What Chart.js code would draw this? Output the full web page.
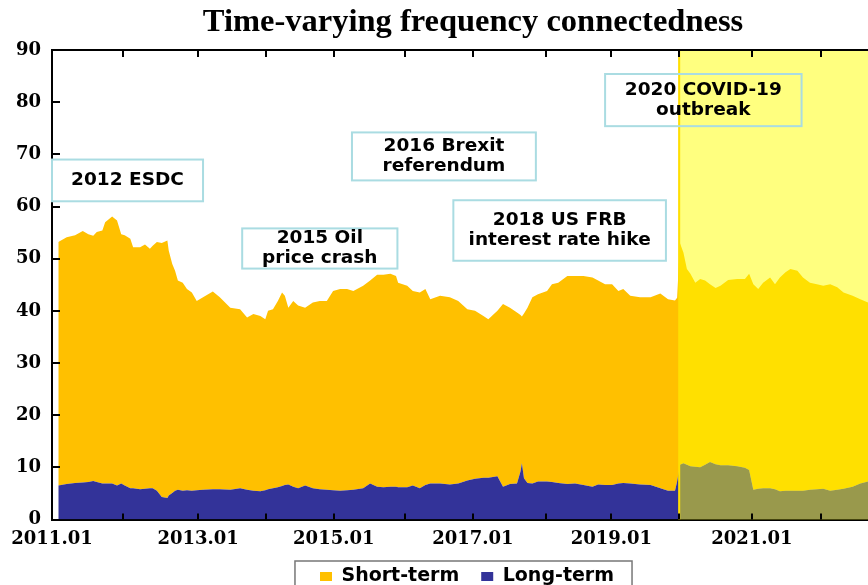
<!DOCTYPE html>
<html><head><meta charset="utf-8">
<script src="https://cdn.jsdelivr.net/npm/chart.js@4.4.1/dist/chart.umd.min.js"></script>
<style>html,body{margin:0;padding:0;background:#fff;overflow:hidden}</style>
</head><body>
<canvas id="c" width="868" height="585"></canvas>
<script>
// ---- data (decimal years) ----
const dates = [2011.09,2011.21,2011.33,2011.44,2011.52,2011.59,2011.64,2011.72,2011.76,2011.86,2011.93,2011.99,
2012.04,2012.12,2012.16,2012.26,2012.33,2012.40,2012.44,2012.50,2012.57,2012.65,2012.67,2012.72,2012.76,2012.80,2012.87,2012.93,
2013.00,2013.07,2013.16,2013.30,2013.40,2013.55,2013.69,2013.79,2013.88,2013.98,
2014.05,2014.09,2014.16,2014.23,2014.29,2014.33,2014.38,2014.45,2014.52,2014.62,2014.73,2014.83,2014.93,
2015.02,2015.12,2015.22,2015.31,2015.45,2015.55,2015.65,2015.74,2015.84,2015.92,2015.95,
2016.08,2016.16,2016.26,2016.34,2016.41,2016.55,2016.69,2016.81,2016.94,
2017.05,2017.17,2017.24,2017.37,2017.45,2017.55,2017.65,2017.70,2017.72,2017.75,2017.80,2017.87,2017.95,
2018.08,2018.15,2018.24,2018.37,2018.48,2018.60,2018.73,2018.81,2018.91,
2019.01,2019.10,2019.17,2019.27,2019.41,2019.56,2019.70,2019.81,2019.91,2019.94,2019.98,
2020.03,2020.08,2020.13,2020.20,2020.27,2020.34,2020.41,2020.49,2020.56,2020.67,2020.80,2020.91,2020.97,
2021.03,2021.10,2021.17,2021.27,2021.34,2021.41,2021.49,2021.56,2021.66,2021.74,2021.84,2021.94,
2022.03,2022.13,2022.23,2022.32,2022.45,2022.56,2022.67];

const longTerm = [6.5,6.8,7.0,7.1,7.2,7.4,7.2,6.9,6.9,6.9,6.5,6.9,
6.5,6.0,6.0,5.8,5.9,6.0,6.0,5.5,4.3,4.1,4.6,5.1,5.5,5.7,5.5,5.6,
5.5,5.6,5.7,5.8,5.8,5.7,6.0,5.7,5.5,5.4,
5.6,5.8,6.0,6.2,6.4,6.6,6.7,6.3,6.0,6.5,6.0,5.8,5.7,
5.6,5.5,5.6,5.7,6.0,6.9,6.3,6.2,6.3,6.3,6.2,
6.2,6.5,6.0,6.6,6.9,6.9,6.7,6.9,7.5,
7.8,8.0,8.0,8.3,6.3,6.8,6.9,9.2,10.8,7.9,7.0,6.9,7.3,
7.3,7.2,7.0,6.8,6.9,6.6,6.3,6.7,6.6,
6.6,6.9,7.0,6.9,6.7,6.6,6.0,5.5,5.5,7.3,10.5,
10.8,10.5,10.2,10.1,10.0,10.5,11.0,10.6,10.4,10.4,10.2,9.9,9.5,
5.7,5.9,6.0,6.0,5.8,5.4,5.5,5.5,5.5,5.5,5.7,5.8,
5.9,5.5,5.7,5.9,6.3,6.9,7.3];

const shortTerm = [46.7,47.3,47.5,48.2,47.5,47.0,47.9,48.5,50.1,51.2,50.8,47.8,
48.0,47.8,46.2,46.4,46.8,45.9,46.5,47.7,48.7,49.4,46.9,43.9,42.2,40.1,39.9,38.6,
38.0,36.3,36.9,37.9,36.8,34.9,34.3,33.0,33.9,33.6,
32.8,34.2,34.3,35.7,37.1,36.3,33.9,35.6,35.0,34.1,35.6,36.1,36.2,
38.2,38.7,38.6,38.1,38.8,38.9,40.6,40.7,40.8,40.4,39.2,
38.6,37.3,37.5,37.6,35.3,36.0,35.9,35.0,32.8,
32.2,31.0,30.4,31.7,35.0,33.8,32.8,30.0,28.1,31.6,33.6,35.7,35.9,
36.5,37.9,38.4,39.9,39.8,40.1,40.1,39.1,38.5,
38.5,36.9,37.2,36.0,35.9,36.0,37.3,36.7,36.5,35.2,42.5,
40.4,37.5,36.9,35.3,36.1,35.3,34.1,33.8,34.4,35.5,35.9,36.2,37.6,
39.4,38.3,39.4,40.4,39.3,41.0,41.9,42.5,42.2,40.9,39.7,39.3,
38.9,39.6,38.8,37.6,36.6,35.3,34.3];

const seriesNames = ['Short-term', 'Long-term'];
const yTicks = [0, 10, 20, 30, 40, 50, 60, 70, 80, 90];
const xRange = [2011.0, 2022.67];
// axis positions of the first trading day of each year, with their labels
const xTickPos = [2011.00, 2012.02, 2013.09, 2014.06, 2015.03, 2016.05, 2017.02, 2018.07, 2019.00, 2019.97, 2021.01, 2022.00];
const xTickLabels = ['2011.01', '', '2013.01', '', '2015.01', '', '2017.01', '', '2019.01', '', '2021.01', ''];
const covidStart = 2019.97;

// event annotations: text lines, year span, value span
const eventText = [['2012 ESDC'], ['2015 Oil', 'price crash'], ['2016 Brexit', 'referendum'], ['2018 US FRB', 'interest rate hike'], ['2020 COVID-19', 'outbreak']];
const eventYears = [[2011.0, 2013.16], [2013.72, 2015.94], [2015.29, 2017.92], [2016.74, 2019.78], [2018.91, 2021.72]];
const eventValues = [[61.0, 69.0], [48.1, 55.8], [65.0, 74.2], [49.6, 61.2], [75.4, 85.4]];

const deco = {
  id: 'deco',
  afterLayout(chart) {
    // the original title and legend sit slightly right of the plot centre
    if (chart.titleBlock) { chart.titleBlock.left += 13; chart.titleBlock.right += 13; }
    if (chart.legend) { chart.legend.left += 7; chart.legend.right += 7; }
  },
  afterDatasetsDraw(chart) {
    const {ctx, chartArea: a, scales: {x}} = chart;
    const xs = x.getPixelForValue(covidStart);
    ctx.save();
    ctx.strokeStyle = '#FFC000'; ctx.lineWidth = 2;
    ctx.beginPath(); ctx.moveTo(xs, a.top); ctx.lineTo(xs, a.bottom); ctx.stroke();
    ctx.fillStyle = 'rgba(255,255,0,0.5)';
    ctx.fillRect(xs - 1, a.top, a.right - xs + 1, a.bottom - a.top);
    ctx.restore();
  },
  afterDraw(chart) {
    const {ctx, chartArea: a, scales: {x, y}} = chart;
    ctx.save();
    ctx.strokeStyle = '#000'; ctx.lineWidth = 2;
    ctx.beginPath(); ctx.moveTo(a.left - 1, a.top); ctx.lineTo(a.right, a.top); ctx.stroke();
    ctx.beginPath();
    x.ticks.forEach(t => {
      const px = Math.round(x.getPixelForValue(t.value));
      ctx.moveTo(px, a.top); ctx.lineTo(px, a.top + 7);
      ctx.moveTo(px, a.bottom); ctx.lineTo(px, a.bottom - 6);
    });
    y.ticks.forEach(t => {
      const py = Math.round(y.getPixelForValue(t.value));
      ctx.moveTo(a.left, py); ctx.lineTo(a.left + 8, py);
    });
    ctx.stroke();
    // annotations
    eventText.forEach((lines, i) => {
      const l = x.getPixelForValue(eventYears[i][0]), r = x.getPixelForValue(eventYears[i][1]);
      const t = y.getPixelForValue(eventValues[i][1]), b = y.getPixelForValue(eventValues[i][0]);
      ctx.strokeStyle = '#AADCE2'; ctx.lineWidth = 2;
      ctx.strokeRect(l, t, r - l, b - t);
      ctx.fillStyle = '#000'; ctx.font = 'bold 18.5px "DejaVu Sans"';
      ctx.textAlign = 'center'; ctx.textBaseline = 'middle';
      const cx = (l + r) / 2, cy = (t + b) / 2, lh = 20;
      lines.forEach((s, k) => ctx.fillText(s, cx, cy + (k - (lines.length - 1) / 2) * lh));
    });
    // legend frame
    const hb = chart.legend.legendHitBoxes;
    if (hb && hb.length) {
      const l = Math.min(...hb.map(h => h.left)) - 25;
      const r = Math.max(...hb.map(h => h.left + h.width)) + 18;
      const t = Math.min(...hb.map(h => h.top)) - 6;
      ctx.strokeStyle = '#777'; ctx.lineWidth = 1.5;
      ctx.strokeRect(l, t, r - l, 60);
    }
    ctx.restore();
  }
};

new Chart(document.getElementById('c'), {
  type: 'line',
  data: {
    datasets: [
      { label: seriesNames[1], data: dates.map((d, i) => ({x: d, y: longTerm[i]})),
        backgroundColor: '#333399', borderColor: '#333399', borderWidth: 0, fill: 'origin', pointRadius: 0, tension: 0 },
      { label: seriesNames[0], data: dates.map((d, i) => ({x: d, y: shortTerm[i]})),
        backgroundColor: '#FFC000', borderColor: '#FFC000', borderWidth: 0, fill: '-1', pointRadius: 0, tension: 0 }
    ]
  },
  options: {
    responsive: false, animation: false, devicePixelRatio: 1,
    layout: { padding: { left: 0, right: 0, top: 0, bottom: -11 } },
    plugins: {
      title: { display: true, fullSize: false, text: 'Time-varying frequency connectedness', color: '#000',
        font: { family: '"Liberation Serif"', size: 32.5, weight: 'bold' }, padding: { top: 3, bottom: 8 } },
      legend: { position: 'bottom', fullSize: false,
        labels: { color: '#000', font: { family: '"DejaVu Sans"', size: 19, weight: 'bold' }, boxWidth: 12, boxHeight: 9, padding: 22,
          sort: (a, b) => b.datasetIndex - a.datasetIndex } },
      tooltip: { enabled: false }
    },
    scales: {
      x: { type: 'linear', min: xRange[0], max: xRange[1],
        afterFit: s => { s.height = 25.5; },
        afterBuildTicks: s => { s.ticks = xTickPos.map(v => ({value: v})); },
        grid: { display: false, drawTicks: false },
        border: { display: true, color: '#000', width: 2 },
        ticks: { autoSkip: false, maxRotation: 0, padding: 9, color: '#000',
          font: { family: '"DejaVu Serif"', size: 18, weight: 'bold' },
          callback: (v, i) => xTickLabels[i] } },
      y: { stacked: true, min: 0, max: 90,
        afterFit: s => { s.width = 52; },
        afterBuildTicks: s => { s.ticks = yTicks.map(v => ({value: v})); },
        grid: { display: false, drawTicks: false },
        border: { display: true, color: '#000', width: 2 },
        ticks: { padding: 11, color: '#000', font: { family: '"DejaVu Serif"', size: 18, weight: 'bold' } } }
    }
  },
  plugins: [deco]
});
</script>
</body></html>
